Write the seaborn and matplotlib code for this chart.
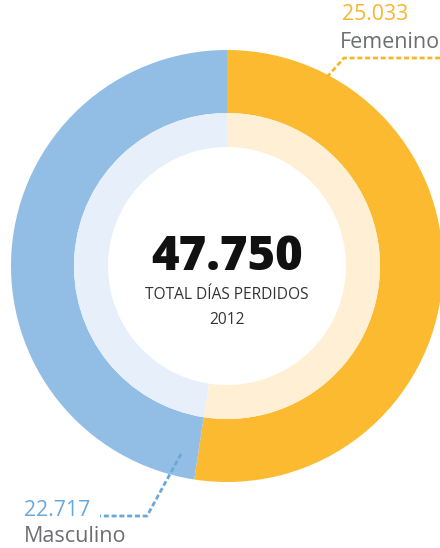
import matplotlib
matplotlib.use("Agg")
import matplotlib.pyplot as plt
import seaborn as sns

# Days lost by sex, 2012
categories = ["Femenino", "Masculino"]
values = [25033, 22717]
year = "2012"
subtitle = "TOTAL DÍAS PERDIDOS"

ring_colors = ["#FBBA30", "#92BEE6"]
inner_colors = ["#FFF0D5", "#E7F0FA"]
number_colors = ["#F8B62D", "#6AA8DC"]
label_color = "#6D6E71"


def fmt(n):
    return f"{n:,}".replace(",", ".")


sns.set_theme(style="white")
plt.rcParams["font.family"] = ["Open Sans", "DejaVu Sans"]

W, H = 440, 548
fig = plt.figure(figsize=(W / 100, H / 100), dpi=100)
ax = fig.add_axes([0, 0, 1, 1])

cx, cy = 227, H - 266
R_out, R_mid, R_in = 216, 153, 119

ax.pie(values, colors=ring_colors, startangle=90, counterclock=False,
       radius=R_out, center=(cx, cy),
       wedgeprops=dict(width=R_out - R_mid, linewidth=0))
ax.pie(values, colors=inner_colors, startangle=90, counterclock=False,
       radius=R_mid, center=(cx, cy),
       wedgeprops=dict(width=R_mid - R_in, linewidth=0))

ax.set_xlim(0, W)
ax.set_ylim(0, H)
ax.set_aspect("equal")
ax.axis("off")

# centre labels
total = sum(values)
ax.text(cx, H - 258, fmt(total), ha="center", va="center",
        fontsize=34, fontweight="black", color="#111111")
ax.text(cx, H - 295, subtitle, ha="center", va="center",
        fontsize=11.2, color="#333333")
ax.text(cx, H - 320, year, ha="center", va="center",
        fontsize=11.2, color="#333333")

dash = (0, (1.8, 1.0))

# Femenino callout (top right)
ax.plot([327, 344, 440], [H - 77, H - 58, H - 58], color=number_colors[0],
        lw=2, linestyle=dash, solid_capstyle="butt")
ax.text(342, H - 15, fmt(values[0]), ha="left", va="center",
        fontsize=15.3, color=number_colors[0])
ax.text(340, H - 43, categories[0], ha="left", va="center",
        fontsize=15.5, color=label_color)

# Masculino callout (bottom left)
ax.plot([181, 147, 100], [H - 454, H - 516, H - 516], color=number_colors[1],
        lw=2, linestyle=dash, solid_capstyle="butt")
ax.text(24, H - 510, fmt(values[1]), ha="left", va="center",
        fontsize=15.3, color=number_colors[1])
ax.text(24, H - 537, categories[1], ha="left", va="center",
        fontsize=15.5, color=label_color)

fig.savefig("out.png", dpi=100, facecolor="white")
